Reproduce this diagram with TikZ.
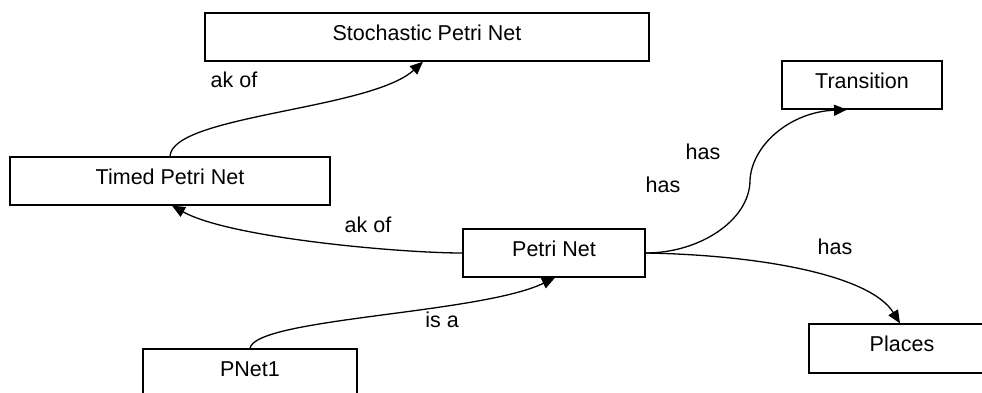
\documentclass[tikz,border=0pt]{standalone}
\usepackage{fontspec}
\setmainfont{Liberation Sans}
\usetikzlibrary{arrows.meta}
\begin{document}
\begin{tikzpicture}[x=1pt,y=-1pt,
  concept/.style={draw=black,line width=1.3pt,fill=white,rectangle,inner sep=0pt,
    text height=12pt,text depth=6pt,
    font=\fontsize{21.5}{25}\selectfont},
  rel/.style={draw=black,line width=1.3pt,-{Triangle[length=13pt,width=11pt]}},
  tag/.style={font=\fontsize{21.5}{25}\selectfont,inner sep=0pt}]
  \useasboundingbox (0,0) rectangle (982,392);
  \clip (0,0) rectangle (982,392);
  \fill[white] (0,0) rectangle (982,392);

  % concept boxes
  \node[concept,minimum width=444pt,minimum height=48pt] (spn) at (427,37) {Stochastic Petri Net};
  \node[concept,minimum width=320pt,minimum height=48pt] (tpn) at (170,181) {Timed Petri Net};
  \node[concept,minimum width=182pt,minimum height=48pt] (pn) at (554,253) {Petri Net};
  \node[concept,minimum width=160pt,minimum height=48pt] (tr) at (862,85) {Transition};
  \node[concept,minimum width=186pt,minimum height=49pt] (pl) at (902,348.5) {Places};
  \node[concept,minimum width=214pt,minimum height=48pt] (pnet) at (250,373) {PNet1};

  % relations
  \draw[rel] (tpn.north) .. controls (172,115) and (370,110) .. ([xshift=-4pt]spn.south);
  \draw[rel] (pn.west) .. controls (400,253) and (230,238) .. ([xshift=2pt]tpn.south);
  \draw[rel] (pnet.north) .. controls (255,318) and (480,314) .. ([xshift=1pt]pn.south);
  \draw[rel] (pn.east) .. controls (700,253) and (750,220) .. (750,180)
             .. controls (752,145) and (790,112) .. ([xshift=-15pt]tr.south);
  \draw[rel] (pn.east) .. controls (760,255) and (870,275) .. ([xshift=-2pt]pl.north);

  % relation labels
  \node[tag] (l1) at (234,80) {ak of};
  \node[tag] (l2) at (368,225) {ak of};
  \node[tag] (l3) at (703,152) {has};
  \node[tag] (l4) at (663,185) {has};
  \node[tag] (l5) at (835,247) {has};
  \node[tag] (l6) at (442,320) {is a};
\end{tikzpicture}
\end{document}
